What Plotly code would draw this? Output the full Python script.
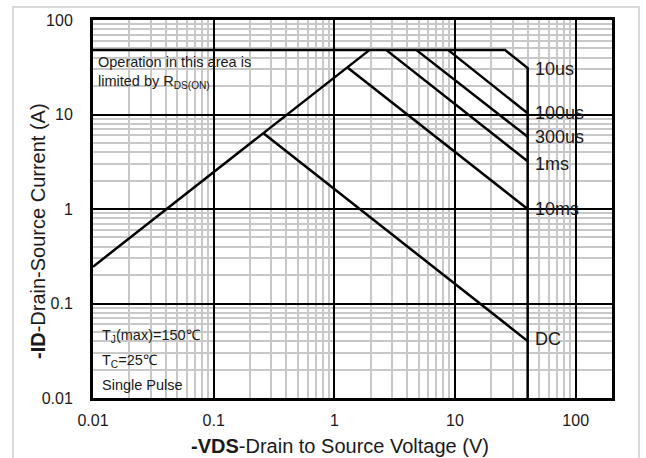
import math
import plotly.graph_objects as go

# ---- data ----
x_ticks = [0.01, 0.1, 1, 10, 100]
x_tick_text = ["0.01", "0.1", "1", "10", "100"]
y_ticks = [0.01, 0.1, 1, 10, 100]
y_tick_text = ["0.01", "0.1", "1", "10", "100"]

rds_v = [0.01, 1.95]
rds_i = [0.245, 48]

us10_v = [0.01, 26, 40, 40]
us10_i = [48, 48, 31, 0.01]

us100_v = [8.8, 40]
us100_i = [48, 10.3]

us300_v = [4.8, 40]
us300_i = [48, 5.8]

ms1_v = [2.7, 40]
ms1_i = [48, 3.2]

ms10_v = [1.3, 40]
ms10_i = [31, 1.0]

dc_v = [0.26, 40]
dc_i = [6.3, 0.04]

curve_labels = ["10us", "100us", "300us", "1ms", "10ms", "DC"]
curve_label_i = [30, 10.3, 5.8, 3.0, 1.0, 0.042]
label_v = 40

FONT = "Liberation Sans, Arial, sans-serif"
TXT = "#1a1a1a"

fig = go.Figure()
series = [(rds_v, rds_i), (us10_v, us10_i), (us100_v, us100_i),
          (us300_v, us300_i), (ms1_v, ms1_i), (ms10_v, ms10_i), (dc_v, dc_i)]
for xs, ys in series:
    fig.add_trace(go.Scatter(x=xs, y=ys, mode="lines",
                             line=dict(color="black", width=2.5),
                             showlegend=False, hoverinfo="skip"))

annotations = []
for lab, iv in zip(curve_labels, curve_label_i):
    annotations.append(dict(x=math.log10(label_v), y=math.log10(iv), xref="x", yref="y",
                            text=lab, showarrow=False, xanchor="left", yanchor="middle",
                            xshift=5, font=dict(family=FONT, size=18, color=TXT)))

def paper_txt(px, py, text, size, anchor="left", angle=0):
    return dict(x=(px - 93) / 519, y=(398 - py) / 378, xref="paper", yref="paper",
                text=text, showarrow=False, xanchor=anchor, yanchor="middle",
                textangle=angle, font=dict(family=FONT, size=size, color=TXT))

annotations += [
    paper_txt(96, 62, "Operation in this area is", 14.5),
    paper_txt(96, 82, "limited by R<sub>DS(ON)</sub>", 14.5),
    paper_txt(100, 336, "T<sub>J</sub>(max)=150℃", 14.5),
    paper_txt(100, 361, "T<sub>C</sub>=25℃", 14.5),
    paper_txt(100, 385, "Single Pulse", 14.5),
    paper_txt(340, 446, "<b>-VDS</b>-Drain to Source Voltage (V)", 20, anchor="center"),
    paper_txt(38, 231, "<b>-ID</b>-Drain-Source Current (A)", 20, anchor="center", angle=-90),
]

fig.update_layout(
    width=646, height=458,
    margin=dict(l=93, r=34, t=20, b=60),
    paper_bgcolor="white", plot_bgcolor="white",
    annotations=annotations,
    shapes=[dict(type="rect", xref="paper", yref="paper",
                 x0=(13 - 93) / 519, x1=(639 - 93) / 519,
                 y0=(398 - 470) / 378, y1=(398 - 7) / 378,
                 line=dict(color="#d9d9d9", width=2), layer="below")],
)

axis_common = dict(
    type="log", showline=True, mirror=True, linecolor="black", linewidth=3,
    showgrid=True, gridcolor="black", gridwidth=1.5, zeroline=False,
    ticks="", tickfont=dict(family=FONT, size=16, color=TXT),
    minor=dict(showgrid=True, gridcolor="#c8c8c8", gridwidth=1.5, dtick="D1", ticks=""),
)
fig.update_xaxes(range=[-2, math.log10(200)], tickmode="array", tickvals=x_ticks,
                 ticktext=x_tick_text, ticklabelstandoff=6, **axis_common)
fig.update_yaxes(range=[-2, 2], tickmode="array", tickvals=y_ticks,
                 ticktext=y_tick_text, ticklabelstandoff=14, **axis_common)

fig.write_html("out.html")
